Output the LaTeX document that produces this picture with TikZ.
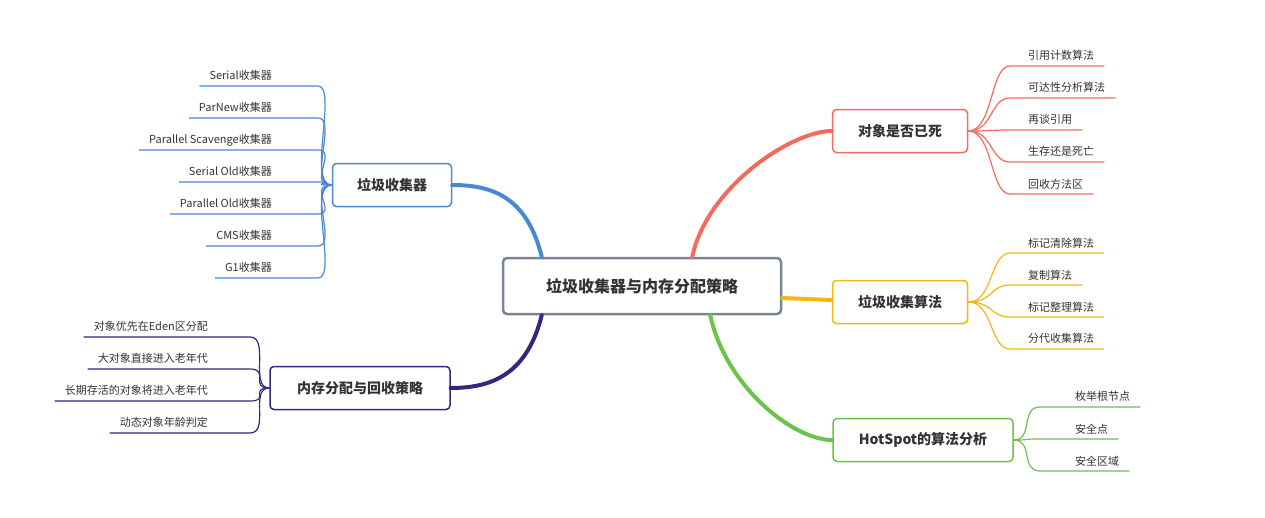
\documentclass[tikz,border=0pt]{standalone}
\usepackage{fontspec}
\setmainfont{Noto Sans CJK SC}
\definecolor{cgray}{HTML}{7A8594}
\definecolor{cred}{HTML}{F36B5C}
\definecolor{cyel}{HTML}{F6B612}
\definecolor{cgrn}{HTML}{6CC24A}
\definecolor{cblu}{HTML}{4A88D6}
\definecolor{cnav}{HTML}{2F2A7E}
\definecolor{ctxt}{HTML}{333333}
\begin{document}
\begin{tikzpicture}[x=1pt,y=-1pt]
\tikzset{
  topic/.style={draw,rounded corners=4pt,line width=1.5pt,minimum height=43pt,
    font=\fontsize{14}{16}\selectfont\bfseries,text=ctxt},
  leaf/.style={font=\fontsize{11}{13}\selectfont,text=ctxt,inner sep=0pt,minimum height=20pt},
  twig/.style={line width=1.2pt},
  trunk/.style={line width=4pt,line cap=round}
}
\useasboundingbox (0,0) rectangle (1265,517);
% root and main topics
\node[topic,draw=cgray,line width=2.5pt,minimum width=278pt,minimum height=56pt,
  font=\fontsize{16}{18}\selectfont\bfseries] (root) at (642,286) {垃圾收集器与内存分配策略};
\node[topic,draw=cred,minimum width=135pt] (dead) at (900,131) {对象是否已死};
\node[topic,draw=cyel,minimum width=135pt] (algo) at (900,302) {垃圾收集算法};
\node[topic,draw=cgrn,minimum width=180pt] (hot) at (923,440) {HotSpot的算法分析};
\node[topic,draw=cblu,minimum width=119pt] (gc) at (392,185) {垃圾收集器};
\node[topic,draw=cnav,minimum width=180pt] (mem) at (360,388) {内存分配与回收策略};
% trunks
\draw[trunk,cred] (root.north east)++(-90,0) .. controls +(15,-70) and +(-40,0) .. (dead.west);
\draw[trunk,cyel] (root.east)++(0,12) -- (algo.west|-0,300);
\draw[trunk,cgrn] (root.south east)++(-72,0) .. controls +(15,70) and +(-40,0) .. (hot.west);
\draw[trunk,cblu] (root.north west)++(40,0) .. controls +(-15,-60) and +(40,0) .. (gc.east);
\draw[trunk,cnav] (root.south west)++(40,0) .. controls +(-15,60) and +(40,0) .. (mem.east);
% right leaves
\foreach \t [count=\i] in {引用计数算法,可达性分析算法,再谈引用,生存还是死亡,回收方法区}{
  \node[leaf,anchor=south west] (d\i) at (1028,{34+32*\i}) {\t};
  \draw[twig,cred] (dead.east) .. controls +(25,0) and +(-20,0) .. (1010,{34+32*\i}) -- ([xshift=10pt]d\i.south east);
}
\foreach \t [count=\i] in {标记清除算法,复制算法,标记整理算法,分代收集算法}{
  \node[leaf,anchor=south west] (a\i) at (1028,{221+32*\i}) {\t};
  \draw[twig,cyel] (algo.east) .. controls +(25,0) and +(-20,0) .. (1010,{221+32*\i}) -- ([xshift=10pt]a\i.south east);
}
\foreach \t [count=\i] in {枚举根节点,安全点,安全区域}{
  \node[leaf,anchor=south west] (h\i) at (1075,{375+32*\i}) {\t};
  \draw[twig,cgrn] (hot.east) .. controls +(20,0) and +(-20,0) .. (1040,{375+32*\i}) -- ([xshift=10pt]h\i.south east);
}
% left leaves
\foreach \t [count=\i] in {Serial收集器,ParNew收集器,Parallel Scavenge收集器,Serial Old收集器,Parallel Old收集器,CMS收集器,G1收集器}{
  \node[leaf,anchor=south east] (g\i) at (272,{54+32*\i}) {\t};
  \draw[twig,cblu] (gc.west) .. controls +(-25,0) and +(20,0) .. (318,{54+32*\i}) -- ([xshift=-10pt]g\i.south west);
}
\foreach \t [count=\i] in {对象优先在Eden区分配,大对象直接进入老年代,长期存活的对象将进入老年代,动态对象年龄判定}{
  \node[leaf,anchor=south east] (m\i) at (208,{305+32*\i}) {\t};
  \draw[twig,cnav] (mem.west) .. controls +(-20,0) and +(20,0) .. (250,{305+32*\i}) -- ([xshift=-10pt]m\i.south west);
}
\end{tikzpicture}
\end{document}
